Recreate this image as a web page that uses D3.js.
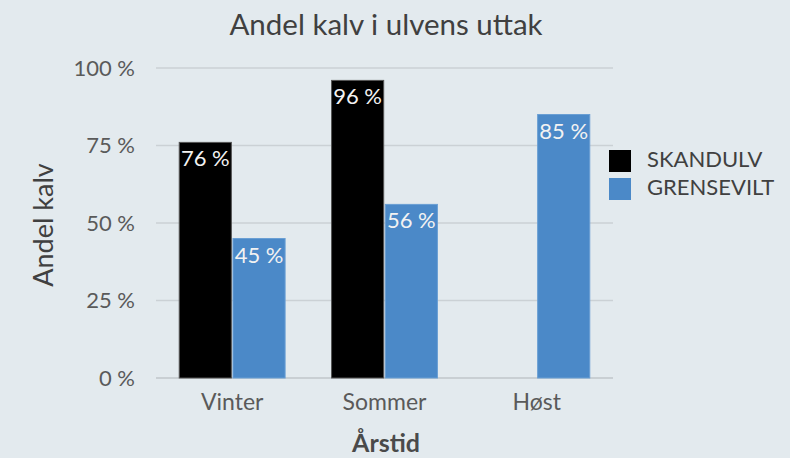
<!DOCTYPE html>
<html>
<head>
<meta charset="utf-8">
<script src="https://cdn.jsdelivr.net/npm/d3@7"></script>
<style>
  body { margin: 0; background: #e3eaee; }
  svg { display: block; font-family: Lato, "Open Sans", sans-serif; }
</style>
</head>
<body>
<div id="chart"></div>
<script>
// data
var seasons = ["Vinter", "Sommer", "Høst"];
var seriesNames = ["SKANDULV", "GRENSEVILT"];
var skandulv = [76, 96, null];
var grensevilt = [45, 56, 85];
var yTicks = [0, 25, 50, 75, 100];
var colors = ["#000000", "#4b89c8"];

var width = 790, height = 458;
var margin = {top: 68, right: 177, bottom: 80, left: 156};
var innerW = width - margin.left - margin.right,
    innerH = height - margin.top - margin.bottom;

var svg = d3.select("#chart")
  .append("svg")
    .attr("width", width)
    .attr("height", height);

svg.append("rect")
  .attr("width", width).attr("height", height)
  .attr("fill", "#e3eaee");

var g = svg.append("g")
  .attr("transform", "translate(" + margin.left + "," + margin.top + ")");

var x0 = d3.scaleBand()
  .domain(seasons)
  .range([0, innerW])
  .paddingInner(0.305)
  .paddingOuter(0.1525);

var x1 = d3.scaleBand()
  .domain(seriesNames)
  .range([0, x0.bandwidth()])
  .paddingInner(0.03);

var y = d3.scaleLinear()
  .domain([0, 100])
  .range([innerH, 0]);

// gridlines
g.append("g")
  .selectAll("line")
  .data(yTicks)
  .enter()
  .append("line")
    .attr("x1", 0).attr("x2", innerW)
    .attr("y1", function(d) { return y(d); })
    .attr("y2", function(d) { return y(d); })
    .attr("stroke", function(d) { return d == 0 ? "#c9cfd3" : "#cbd1d5"; })
    .attr("stroke-width", function(d) { return d == 0 ? 2 : 1.5; });

// y axis labels
var yAxis = g.append("g")
  .call(d3.axisLeft(y).tickValues(yTicks).tickSize(0).tickPadding(21)
    .tickFormat(function(d) { return d + " %"; }));
yAxis.select(".domain").remove();
yAxis.selectAll("text")
  .attr("fill", "#5a5a5a")
  .style("font-size", "22px")
  .style("font-family", "Lato, sans-serif");

// x axis labels
var xAxis = g.append("g")
  .attr("transform", "translate(0," + innerH + ")")
  .call(d3.axisBottom(x0).tickSize(0).tickPadding(16));
xAxis.select(".domain").remove();
xAxis.selectAll("text")
  .attr("fill", "#5a5a5a")
  .style("font-size", "23px")
  .style("font-family", "Lato, sans-serif");

var rows = seasons.map(function(s, i) {
  return {season: s, values: [
    {key: seriesNames[0], value: skandulv[i], color: colors[0]},
    {key: seriesNames[1], value: grensevilt[i], color: colors[1]}
  ]};
});

var groups = g.append("g")
  .selectAll("g")
  .data(rows)
  .enter()
  .append("g")
    .attr("transform", function(d) { return "translate(" + x0(d.season) + ",0)"; });

var bars = groups.selectAll("g.bar")
  .data(function(d) { return d.values.filter(function(v) { return v.value != null; }); })
  .enter()
  .append("g")
    .attr("class", "bar");

bars.append("rect")
  .attr("x", function(d) { return x1(d.key); })
  .attr("y", function(d) { return y(d.value); })
  .attr("width", x1.bandwidth())
  .attr("height", function(d) { return innerH - y(d.value); })
  .attr("fill", function(d) { return d.color; })
  .attr("stroke", function(d) { return d.key == "SKANDULV" ? "#555" : "#6a9fd4"; })
  .attr("stroke-width", 1);

bars.append("text")
  .attr("x", function(d) { return x1(d.key) + x1.bandwidth() / 2; })
  .attr("y", function(d) { return y(d.value) + 24; })
  .attr("text-anchor", "middle")
  .attr("fill", "#f2f2f2")
  .style("font-size", "22px")
  .text(function(d) { return d.value + " %"; });

// title
svg.append("text")
  .attr("x", 386).attr("y", 35)
  .attr("text-anchor", "middle")
  .attr("fill", "#404040")
  .style("font-size", "29.5px")
  .text("Andel kalv i ulvens uttak");

// axis titles
svg.append("text")
  .attr("transform", "translate(53,225) rotate(-90)")
  .attr("text-anchor", "middle")
  .attr("fill", "#404040")
  .style("font-size", "27px")
  .text("Andel kalv");

svg.append("text")
  .attr("x", 386).attr("y", 452)
  .attr("text-anchor", "middle")
  .attr("fill", "#4a4a4a")
  .style("font-size", "25px")
  .style("font-weight", "bold")
  .text("Årstid");

// legend
var legend = svg.append("g")
  .attr("transform", "translate(609,150)");

var li = legend.selectAll("g")
  .data(seriesNames)
  .enter()
  .append("g")
    .attr("transform", function(d, i) { return "translate(0," + (i * 28) + ")"; });

li.append("rect")
  .attr("width", 22).attr("height", 22)
  .attr("fill", function(d, i) { return colors[i]; });

li.append("text")
  .attr("x", 38).attr("y", 17)
  .attr("fill", "#404040")
  .style("font-size", "22px")
  .text(function(d) { return d; });
</script>
</body>
</html>
